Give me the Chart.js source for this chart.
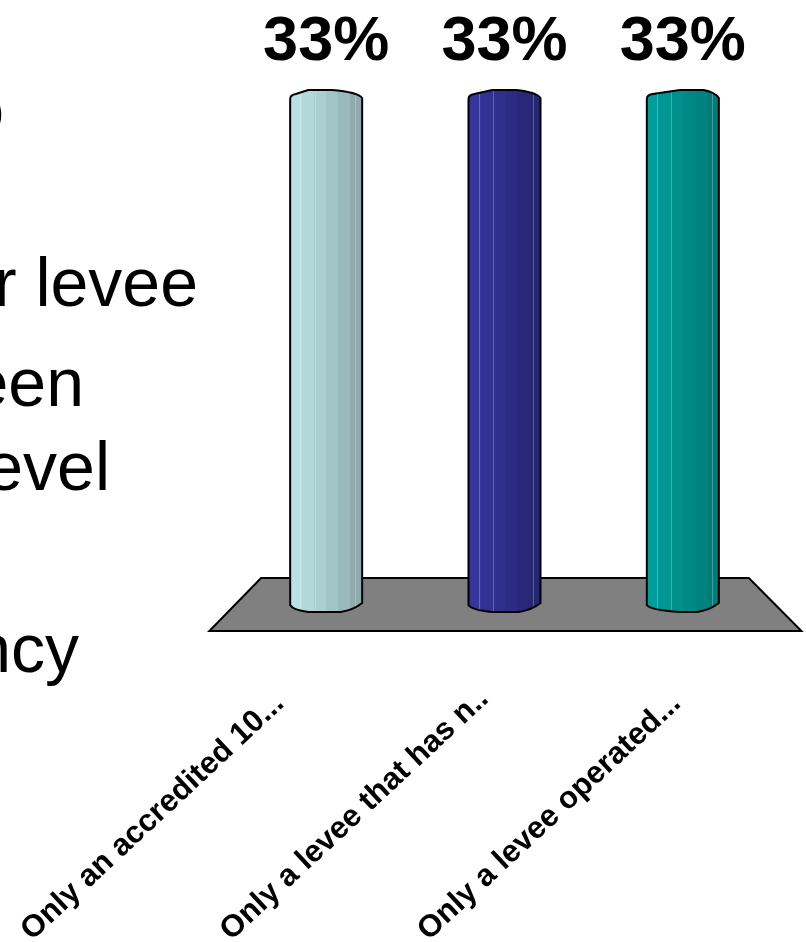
<!DOCTYPE html>
<html>
<head>
<meta charset="utf-8">
<title>Levee poll</title>
<script src="https://cdn.jsdelivr.net/npm/chart.js@4"></script>
<style>
  html, body { margin: 0; padding: 0; background: #fff; overflow: hidden; }
  #wrap { position: relative; width: 806px; height: 942px; overflow: hidden; }
  #chart { position: absolute; left: 0; top: 0; }
  .line { position: absolute; font: 68px "Liberation Sans", Arial, sans-serif; color: #000; white-space: pre; line-height: 60px; }
</style>
</head>
<body>
<div id="wrap">
  <div class="line" style="right:802px;top:79px">o</div>
  <div class="line" style="right:608px;top:252px">r levee</div>
  <div class="line" style="right:722px;top:352px">een</div>
  <div class="line" style="right:696px;top:436px">evel</div>
  <div class="line" style="right:727px;top:618px">ncy</div>
  <canvas id="chart" width="806" height="942"></canvas>
</div>
<script>
const categories = ['Only an accredited 10...', 'Only a levee that has n..', 'Only a levee operated...']
const values = [33, 33, 33]
const valueLabels = ['33%', '33%', '33%']
// stepped shading across each cylinder, left to right
const shades = [
  ['#b9e0e3', '#b2d8da', '#a9cfd0', '#a1c4c6', '#9ab9bb', '#90abad'],
  ['#35359b', '#323295', '#2f2f8c', '#2c2c84', '#29297b', '#262673'],
  ['#009e9a', '#009793', '#00908c', '#008a86', '#00837f', '#007c79']
]
// where the flat part of each rounded end starts, as a share of the bar width
const capPeak = [0.25, 0.33, 0.46]
// where each rotated label starts, relative to its tick
const labelShift = [-300, -279, -260]

function stepped(c, bar, list) {
  const left = bar.x - bar.width / 2
  const g = c.createLinearGradient(left, 0, left + bar.width, 0)
  list.forEach(function(col, k) {
    g.addColorStop(k / list.length, col)
    g.addColorStop((k + 1) / list.length, col)
  })
  return g
}

// the outline of a cylinder with its rounded ends
function cylinderPath(c, bar, peak) {
  const w = bar.width, l = bar.x - w / 2, r = bar.x + w / 2
  const top = bar.y, bot = bar.base
  c.beginPath()
  c.moveTo(l, bot)
  c.lineTo(l, top + 1)
  c.quadraticCurveTo(l, top - 3, l + w * 0.08, top - 4)
  c.lineTo(l + w * peak, top - 8)
  c.lineTo(l + w * (peak + 0.33), top - 8)
  c.quadraticCurveTo(r - w * 0.06, top - 6, r, top)
  c.lineTo(r, bot)
  c.quadraticCurveTo(r - w * 0.12, bot + 7, r - w * 0.3, bot + 9)
  c.lineTo(l + w * peak, bot + 9)
  c.quadraticCurveTo(l + w * 0.04, bot + 7, l, bot + 2)
  c.closePath()
}

const cylinders = {
  id: 'cylinders',
  // grey floor, tied to the x scale and the bottom of the plot
  beforeDatasetsDraw(chart) {
    const c = chart.ctx, a = chart.chartArea, step = chart.scales.x.width / 3
    const bl = a.left - step * 0.155, br = a.right + step * 0.165
    const tl = a.left + step * 0.135, tr = a.right - step * 0.13
    c.save()
    c.beginPath()
    c.moveTo(bl, a.bottom + 28)
    c.lineTo(br, a.bottom + 28)
    c.lineTo(tr, a.bottom - 25)
    c.lineTo(tl, a.bottom - 25)
    c.closePath()
    c.fillStyle = '#808080'
    c.fill()
    c.lineWidth = 2
    c.strokeStyle = '#000'
    c.stroke()
    c.restore()
  },
  afterDatasetsDraw(chart) {
    const c = chart.ctx, scale = chart.scales.x
    chart.getDatasetMeta(0).data.forEach(function(bar, i) {
      c.save()
      cylinderPath(c, bar, capPeak[i])
      c.fillStyle = stepped(c, bar, shades[i])
      c.fill()
      // thin light seams in the shading
      c.clip()
      c.strokeStyle = 'rgba(255,255,255,0.25)'
      c.lineWidth = 1
      ;[0.14, 0.34, 0.9].forEach(function(f) {
        const x = Math.round(bar.x - bar.width / 2 + bar.width * f) + 0.5
        c.beginPath()
        c.moveTo(x, bar.y - 8)
        c.lineTo(x, bar.base + 9)
        c.stroke()
      })
      c.restore()
      c.save()
      cylinderPath(c, bar, capPeak[i])
      c.lineWidth = 2
      c.strokeStyle = '#000'
      c.stroke()
      c.restore()

      c.save()
      c.fillStyle = '#000'
      c.font = 'bold 63px "Liberation Sans", Arial, sans-serif'
      c.textAlign = 'center'
      c.fillText(valueLabels[i], bar.x, bar.y - 38)
      c.restore()

      // category label, rotated up to the right
      c.save()
      c.translate(scale.getPixelForTick(i) + labelShift[i], chart.chartArea.bottom + 332)
      c.rotate(-0.75)
      c.fillStyle = '#000'
      c.font = 'bold 31px "Liberation Sans", Arial, sans-serif'
      c.textAlign = 'left'
      c.textBaseline = 'middle'
      c.fillText(categories[i], 0, 0)
      c.restore()
    })
  }
}

new Chart(document.getElementById('chart').getContext('2d'), {
  type: 'bar',
  data: {
    labels: categories,
    datasets: [{
      data: values,
      backgroundColor: function(ctx) { return shades[ctx.dataIndex][0] },
      borderWidth: 0,
      barThickness: 72
    }]
  },
  options: {
    responsive: false,
    animation: false,
    events: [],
    layout: { padding: { left: 237, right: 34, top: 98, bottom: 0 } },
    plugins: { legend: { display: false }, tooltip: { enabled: false }, title: { display: false } },
    scales: {
      x: {
        grid: { display: false },
        border: { display: false },
        afterFit(scale) { scale.height = 339 },
        ticks: { display: false }
      },
      y: { display: false, min: 0, max: 33 }
    }
  },
  plugins: [cylinders]
})
</script>
</body>
</html>
